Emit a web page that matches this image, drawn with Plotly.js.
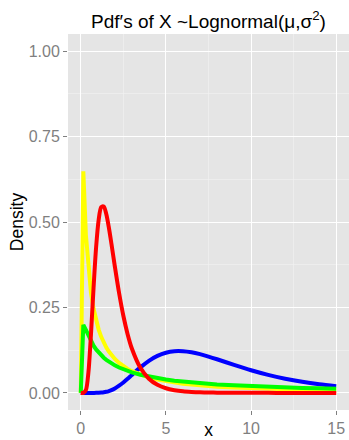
<!DOCTYPE html>
<html>
<head>
<meta charset="utf-8">
<script src="https://cdn.plot.ly/plotly-3.0.1.min.js"></script>
<style>html,body{margin:0;padding:0;background:#fff;}#chart{width:349px;height:440px;}</style>
</head>
<body>
<div id="chart"></div>
<script>
// x grid shared by all curves
const xValues = [0,0.15,0.3,0.45,0.6,0.75,0.9,1.05,1.2,1.35,1.5,1.65,1.8,2,2.25,2.5,2.75,3,3.5,4,4.5,5,5.5,6,6.5,7,7.5,8,9,10,11,12,13,14,15];

// densities
const blueDensity = [0,0,0,0,0,0.00003,0.00013,0.00037,0.0009,0.0018,0.0033,0.0054,0.0082,0.0131,0.0210,0.0305,0.0411,0.0524,0.0746,0.0939,0.1084,0.1176,0.1219,0.1219,0.1188,0.1133,0.1063,0.0985,0.0820,0.0664,0.0529,0.0415,0.0324,0.0252,0.0195];
const yellowDensity = [0,0.6485,0.4625,0.3591,0.2926,0.2461,0.2117,0.1852,0.1641,0.1470,0.1328,0.1209,0.1107,0.0993,0.0876,0.0781,0.0702,0.0636,0.0531,0.0452,0.0391,0.0342,0.0303,0.0270,0.0243,0.0219,0.0200,0.0183,0.0155,0.0133,0.0116,0.0102,0.0090,0.0080,0.0072];
const greenDensity = [0,0.1992,0.1842,0.1665,0.1512,0.1383,0.1273,0.1180,0.1100,0.1030,0.0968,0.0913,0.0864,0.0806,0.0743,0.0689,0.0642,0.0601,0.0532,0.0476,0.0430,0.0391,0.0359,0.0331,0.0306,0.0285,0.0266,0.0249,0.0221,0.0197,0.0178,0.0161,0.0147,0.0135,0.0125];
const redDensity = [0,0.0001,0.0080,0.0608,0.1723,0.3076,0.4260,0.5057,0.5434,0.5456,0.5225,0.4836,0.4365,0.3703,0.2923,0.2257,0.1719,0.1299,0.0734,0.0415,0.0236,0.0136,0.0080,0.0047,0.0029,0.0017,0.0011,0.0007,0.0003,0.0001,0.0001,0,0,0,0];

const yTickVals = [0,0.25,0.5,0.75,1];
const yTickText = ["0.00","0.25","0.50","0.75","1.00"];
const xTickVals = [0,5,10,15];
const xTickText = ["0","5","10","15"];

const FONT = "Liberation Sans, Arial, Helvetica, sans-serif";

function line(y, color, shape) {
  return {x: xValues, y: y, type: 'scatter', mode: 'lines',
    line: {color: color, width: 4, shape: shape, smoothing: 0.8},
    hoverinfo: 'skip', showlegend: false};
}

const data = [
  line(blueDensity, '#0000FF', 'spline'),
  line(yellowDensity, '#FFFF00', 'linear'),
  line(greenDensity, '#00FF00', 'linear'),
  line(redDensity, '#FF0000', 'spline')
];

const layout = {
  width: 349, height: 440,
  margin: {l: 68, r: 0, t: 34, b: 30, pad: 0},
  paper_bgcolor: '#FFFFFF',
  plot_bgcolor: '#E5E5E5',
  font: {family: FONT, color: '#000000'},
  title: {text: 'Pdf′s of X ~Lognormal(μ,σ<sup>2</sup>)', font: {size: 19, color: '#000000', family: FONT},
    x: 0.5, xref: 'paper', xanchor: 'center', y: 1 - 21/440, yref: 'container', yanchor: 'middle'},
  xaxis: {
    range: [-0.75, 15.75], tickvals: xTickVals, ticktext: xTickText,
    showgrid: true, gridcolor: '#FFFFFF', gridwidth: 1, zeroline: false, showline: false,
    ticks: 'outside', ticklen: 4, tickwidth: 1, tickcolor: '#7F7F7F',
    tickfont: {size: 16, color: '#7F7F7F', family: FONT},
    minor: {dtick: 2.5, tick0: 0, showgrid: true, gridcolor: '#F2F2F2', gridwidth: 0.6, ticks: ''},
    title: {text: 'x', font: {size: 17.5, color: '#000000', family: FONT}, standoff: 1},
    automargin: false, fixedrange: true
  },
  yaxis: {
    range: [-0.05, 1.05], tickvals: yTickVals, ticktext: yTickText,
    showgrid: true, gridcolor: '#FFFFFF', gridwidth: 1, zeroline: false, showline: false,
    ticks: 'outside', ticklen: 4, tickwidth: 1, tickcolor: '#7F7F7F',
    tickfont: {size: 16, color: '#7F7F7F', family: FONT},
    minor: {dtick: 0.125, tick0: 0, showgrid: true, gridcolor: '#F2F2F2', gridwidth: 0.6, ticks: ''},
    title: {text: 'Density', font: {size: 17.5, color: '#000000', family: FONT}, standoff: 0},
    automargin: false, fixedrange: true
  }
};

Plotly.newPlot('chart', data, layout, {displayModeBar: false, staticPlot: true});
</script>
</body>
</html>
